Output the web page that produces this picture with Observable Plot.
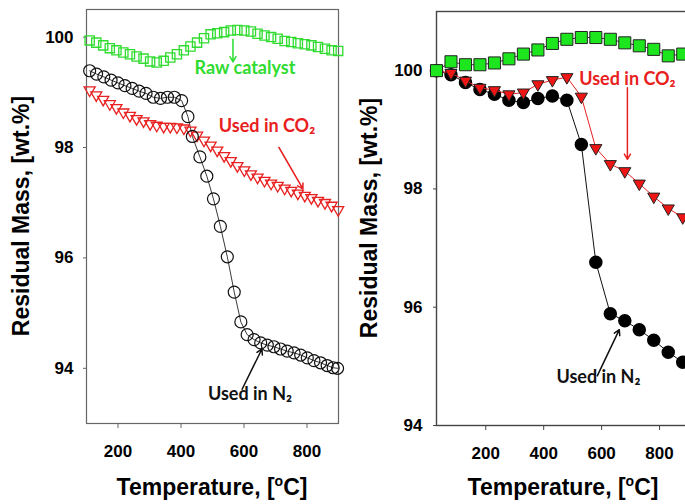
<!DOCTYPE html>
<html>
<head>
<meta charset="utf-8">
<script src="https://cdn.jsdelivr.net/npm/d3@7"></script>
<script src="https://cdn.jsdelivr.net/npm/@observablehq/plot@0.6"></script>
<style>
  html, body { margin: 0; padding: 0; background: #fff; }
  #wrap { position: relative; width: 685px; height: 504px; overflow: hidden; background: #fff; }
  .panel { position: absolute; top: 0; height: 504px; }
  .panel svg { max-width: none !important; }
  .title { position: absolute; font-family: "Liberation Sans", Arial, sans-serif; font-weight: bold; font-size: 23px; color: #000; white-space: nowrap; transform: translate(-50%, -50%); }
  .title sup { font-size: 14px; vertical-align: 9px; line-height: 0; }
  .ytitle { transform: translate(-50%, -50%) rotate(-90deg); }
</style>
</head>
<body>
<div id="wrap">
  <div id="left" class="panel" style="left:0px; width:345px"></div>
  <div id="right" class="panel" style="left:345px; width:382px"></div>
  <div class="title" style="left:212px; top:487px">Temperature, [<sup>o</sup>C]</div>
  <div class="title" style="left:563px; top:487px">Temperature, [<sup>o</sup>C]</div>
  <div class="title ytitle" style="left:21px; top:216px">Residual Mass, [wt.%]</div>
  <div class="title ytitle" style="left:369px; top:218px">Residual Mass, [wt.%]</div>
</div>
<script>
// ---------- Left panel data (open markers) ----------
const leftT = [110,131,153,174,195,217,238,259,281,302,323,345,366,387,409,430,451,473,494,515,537,558,579,601,622,643,665,686,707,729,750,771,793,814,835,857,878,899];
const leftRaw = [99.94,99.90,99.85,99.80,99.76,99.72,99.69,99.65,99.61,99.56,99.54,99.57,99.63,99.69,99.76,99.83,99.90,99.98,100.05,100.07,100.09,100.12,100.13,100.12,100.10,100.06,100.03,100.00,99.97,99.93,99.91,99.89,99.87,99.85,99.82,99.79,99.76,99.75];
const leftCO2 = [99.04,98.95,98.87,98.79,98.72,98.64,98.58,98.52,98.48,98.43,98.40,98.38,98.38,98.37,98.35,98.31,98.22,98.13,98.04,97.95,97.85,97.76,97.67,97.59,97.52,97.46,97.40,97.35,97.31,97.26,97.22,97.17,97.13,97.09,97.04,97.00,96.95,96.87];
const leftN2T = [110,132,155,178,200,222,245,267,289,312,335,357,379,402,422,436,460,482,503,525,547,569,590,610,632,653,674,695,716,737,759,780,801,822,843,864,883,897];
const leftN2 = [99.39,99.33,99.28,99.22,99.17,99.12,99.07,99.02,98.98,98.91,98.89,98.91,98.91,98.85,98.56,98.20,97.83,97.48,97.07,96.57,96.02,95.38,94.84,94.61,94.52,94.46,94.42,94.39,94.35,94.31,94.28,94.24,94.19,94.14,94.10,94.05,94.01,94.00];

// ---------- Right panel data (filled markers) ----------
const rightT = [30,80,130,180,230,280,330,380,430,480,530,580,630,680,730,780,830,880];
const rightRaw = [100.00,100.15,100.10,100.10,100.13,100.20,100.28,100.35,100.46,100.53,100.56,100.56,100.53,100.47,100.42,100.36,100.25,100.28];
const rightN2 = [100.00,99.93,99.80,99.68,99.60,99.50,99.46,99.53,99.57,99.50,98.75,96.76,95.89,95.77,95.62,95.44,95.24,95.07];
const rightCO2 = [100.00,99.96,99.83,99.71,99.67,99.60,99.63,99.77,99.84,99.89,99.56,98.69,98.42,98.30,98.09,97.87,97.67,97.52];

// ---------- Tick labels ----------
const xTicks = [200, 400, 600, 800];
const leftYTicks = [94, 96, 98, 100];
const rightYTicks = [94, 96, 98, 100];

// ---------- Annotations ----------
const leftLabels = [
  {x: 603, y: 99.44, text: "Raw catalyst", color: "#2fdc2f"},
  {x: 673, y: 98.38, text: "Used in CO₂", color: "#e82020"},
  {x: 619, y: 93.53, text: "Used in N₂", color: "#111"}
];
const leftArrows = [
  {x1: 565, y1: 99.96, x2: 565, y2: 99.55, color: "#2fdc2f"},
  {x1: 711, y1: 98.00, x2: 787, y2: 97.25, color: "#e82020"},
  {x1: 594, y1: 93.62, x2: 657, y2: 94.35, color: "#111"}
];
const rightLabels = [
  {x: 689, y: 99.86, text: "Used in CO₂", color: "#e82020"},
  {x: 589, y: 94.81, text: "Used in N₂", color: "#111"}
];
const rightArrows = [
  {x1: 689, y1: 99.71, x2: 689, y2: 98.50, color: "#e82020"},
  {x1: 585, y1: 94.84, x2: 661, y2: 95.62, color: "#111"}
];

// downward triangle symbol
const triangleDown = {
  draw(context, size) {
    const s3 = Math.sqrt(3);
    const y = -Math.sqrt(size / (s3 * 3));
    context.moveTo(0, -2 * y);
    context.lineTo(-s3 * y, y);
    context.lineTo(s3 * y, y);
    context.closePath();
  }
};

const zip = (xs, ys) => xs.map((x, i) => ({x, y: ys[i]}));
const lRaw = zip(leftT, leftRaw), lCO2 = zip(leftT, leftCO2), lN2 = zip(leftN2T, leftN2);
const rRaw = zip(rightT, rightRaw), rCO2 = zip(rightT, rightCO2), rN2 = zip(rightT, rightN2);

const baseStyle = {fontFamily: "'Liberation Sans', Arial, sans-serif", fontSize: "17px", fontWeight: "bold", background: "transparent", overflow: "visible", maxWidth: "none"};
const annFont = {fontFamily: "Lato, 'Open Sans', sans-serif", fontSize: 18, fontWeight: "bold"};

const left = Plot.plot({
  width: 345, height: 504,
  marginLeft: 86, marginRight: 7, marginTop: 9, marginBottom: 81,
  style: baseStyle,
  x: {domain: [100, 900]},
  y: {domain: [93, 100.5]},
  marks: [
    Plot.axisX({ticks: xTicks, tickSize: 5, tickPadding: 16, label: null, stroke: "#666", tickFormat: d => String(d)}),
    Plot.axisY({ticks: leftYTicks, tickSize: 3, tickPadding: 10, label: null, stroke: "#666", tickFormat: d => String(d)}),
    Plot.frame({stroke: "#666", strokeWidth: 1.2}),
    Plot.line(lN2, {x: "x", y: "y", stroke: "#222", strokeWidth: 0.9}),
    Plot.dot(lRaw, {x: "x", y: "y", symbol: "square", r: 5.2, stroke: "#2fdc2f", strokeWidth: 1.3, fill: "none"}),
    Plot.dot(lCO2, {x: "x", y: "y", symbol: triangleDown, r: 4.1, stroke: "#e82020", strokeWidth: 1.3, fill: "none"}),
    Plot.dot(lN2, {x: "x", y: "y", symbol: "circle", r: 6, stroke: "#111", strokeWidth: 1.2, fill: "none"}),
    Plot.arrow(leftArrows, {x1: "x1", y1: "y1", x2: "x2", y2: "y2", stroke: "color", strokeWidth: 1.5, headLength: 6}),
    Plot.text(leftLabels, {x: "x", y: "y", text: "text", fill: "color", ...annFont})
  ]
});
document.getElementById("left").append(left);

const right = Plot.plot({
  width: 382, height: 504,
  marginLeft: 91, marginRight: 10, marginTop: 11, marginBottom: 79,
  style: baseStyle,
  x: {domain: [30, 1000]},
  y: {domain: [94, 101]},
  marks: [
    Plot.axisX({ticks: xTicks, tickSize: 5, tickPadding: 16, label: null, stroke: "#444", tickFormat: d => String(d)}),
    Plot.axisY({ticks: rightYTicks, tickSize: 3, tickPadding: 11, label: null, stroke: "#444", tickFormat: d => String(d)}),
    Plot.frame({stroke: "#444", strokeWidth: 1.4}),
    Plot.line(rN2, {x: "x", y: "y", stroke: "#111", strokeWidth: 1}),
    Plot.dot(rN2, {x: "x", y: "y", symbol: "circle", r: 6, fill: "#000", stroke: "#000"}),
    Plot.line(rCO2, {x: "x", y: "y", stroke: "#e82020", strokeWidth: 1}),
    Plot.dot(rCO2, {x: "x", y: "y", symbol: triangleDown, r: 4.5, fill: "#ee1515", stroke: "#222", strokeWidth: 1}),
    Plot.line(rRaw, {x: "x", y: "y", stroke: "#333", strokeWidth: 1}),
    Plot.dot(rRaw, {x: "x", y: "y", symbol: "square", r: 6.8, fill: "#1ee61e", stroke: "#222", strokeWidth: 1}),
    Plot.arrow(rightArrows, {x1: "x1", y1: "y1", x2: "x2", y2: "y2", stroke: "color", strokeWidth: 1.5, headLength: 6}),
    Plot.text(rightLabels, {x: "x", y: "y", text: "text", fill: "color", ...annFont})
  ]
});
document.getElementById("right").append(right);
</script>
</body>
</html>
